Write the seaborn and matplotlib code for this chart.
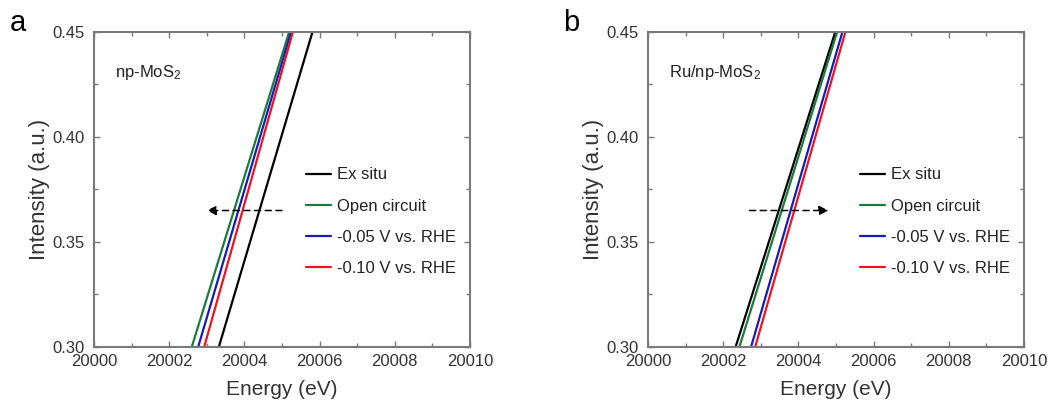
import numpy as np
import pandas as pd
import matplotlib
matplotlib.use("Agg")
import matplotlib.pyplot as plt
from matplotlib.ticker import MultipleLocator
import seaborn as sns

sns.set_theme(style="white")
plt.rcParams['font.family'] = ['Liberation Sans', 'DejaVu Sans']
plt.rcParams['mathtext.fontset'] = 'custom'
plt.rcParams['mathtext.rm'] = 'Liberation Sans'
plt.rcParams['mathtext.it'] = 'Liberation Sans'

# ---- data ----
conditions = ["Ex situ", "Open circuit", "-0.05 V vs. RHE", "-0.10 V vs. RHE"]
colors = ["#000000", "#1b7a3e", "#1a1ab4", "#e8171f"]
intensity = [0.30, 0.45]

# panel a: np-MoS2, energies (eV) at the intensities above
a_ex_situ = [20003.32, 20005.81]
a_open = [20002.60, 20005.19]
a_m005 = [20002.77, 20005.24]
a_m010 = [20002.93, 20005.29]

# panel b: Ru/np-MoS2
b_ex_situ = [20002.33, 20004.98]
b_open = [20002.43, 20005.03]
b_m005 = [20002.74, 20005.17]
b_m010 = [20002.85, 20005.25]

# arrows (start energy, end energy, intensity)
a_arrow = (20005.0, 20003.0, 0.365)
b_arrow = (20002.7, 20004.8, 0.365)

x_ticks = [20000, 20002, 20004, 20006, 20008, 20010]
y_ticks = [0.30, 0.35, 0.40, 0.45]


def long_df(series):
    rows = []
    for cond, energies in zip(conditions, series):
        for e, i in zip(energies, intensity):
            rows.append({"Energy": e, "Intensity": i, "Condition": cond})
    return pd.DataFrame(rows)


fig = plt.figure(figsize=(10.52, 4.07), dpi=100)
W, H = 1052, 407
axes = [
    fig.add_axes([94 / W, (H - 347) / H, 376 / W, 315 / H]),
    fig.add_axes([648 / W, (H - 347) / H, 376 / W, 315 / H]),
]

panels = [
    (axes[0], [a_ex_situ, a_open, a_m005, a_m010], a_arrow, "np-MoS$_2$", "a"),
    (axes[1], [b_ex_situ, b_open, b_m005, b_m010], b_arrow, "Ru/np-MoS$_2$", "b"),
]

spine_col = "#7a7a7a"
text_col = "#333333"

for ax, series, arrow, name, letter in panels:
    df = long_df(series)
    sns.lineplot(data=df, x="Energy", y="Intensity", hue="Condition",
                 hue_order=conditions, palette=colors, ax=ax, lw=1.6,
                 sort=False, estimator=None)
    ax.set_xlim(20000, 20010)
    ax.set_ylim(0.30, 0.45)
    ax.set_xticks(x_ticks)
    ax.set_xticklabels([str(t) for t in x_ticks])
    ax.set_yticks(y_ticks)
    ax.set_yticklabels([f"{t:.2f}" for t in y_ticks])
    ax.xaxis.set_minor_locator(MultipleLocator(1))
    ax.yaxis.set_minor_locator(MultipleLocator(0.025))
    ax.tick_params(which="both", direction="in", top=True, right=True,
                   bottom=True, left=True, color=spine_col, width=1.0)
    ax.tick_params(which="major", length=4, labelsize=12, labelcolor=text_col)
    ax.tick_params(axis="x", which="major", pad=5)
    ax.tick_params(axis="y", which="major", pad=6.5)
    ax.tick_params(which="minor", length=3)
    for s in ax.spines.values():
        s.set_color(spine_col)
        s.set_linewidth(1.5)
    ax.set_xlabel("Energy (eV)", fontsize=15, color=text_col, labelpad=8)
    ax.set_ylabel("Intensity (a.u.)", fontsize=16, color=text_col, labelpad=2)
    ax.annotate("", xy=(arrow[1], arrow[2]), xytext=(arrow[0], arrow[2]),
                arrowprops=dict(arrowstyle="-|>", color="black", lw=1.1,
                                linestyle=(0, (4, 3)), mutation_scale=14,
                                shrinkA=0, shrinkB=0))
    ax.text(0.055, 0.87, name, transform=ax.transAxes, fontsize=12,
            color="#222222", ha="left", va="center")
    ax.text(-0.225, 1.03, letter, transform=ax.transAxes, fontsize=21,
            color="black", ha="left", va="center")
    leg = ax.legend(loc="upper left", bbox_to_anchor=(0.563, 0.57),
                    frameon=False, fontsize=12, handlelength=1.5,
                    handletextpad=0.35, labelspacing=0.97, borderpad=0,
                    borderaxespad=0)
    for t in leg.get_texts():
        t.set_color("#222222")

fig.savefig("out.png", dpi=100)
